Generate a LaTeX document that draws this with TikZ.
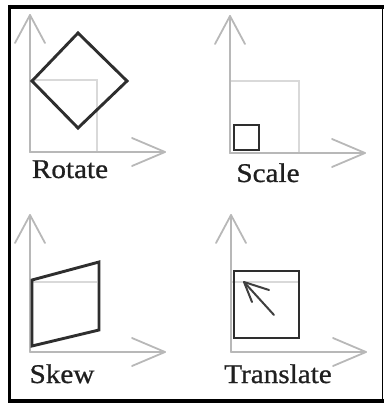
\documentclass[tikz,border=0pt]{standalone}
\usepackage{fontspec}
\setmainfont[FakeBold=0.8,BoldFont={Liberation Serif}]{Liberation Serif}
\begin{document}
\begin{tikzpicture}[x=1pt,y=-1pt,
  axis/.style={draw=black!28,line width=1.8pt,line cap=round,line join=round},
  ghost/.style={draw=black!15,line width=1.6pt},
  figline/.style={draw=black!82,line width=2.9pt,line join=miter},
  lbl/.style={anchor=base,inner sep=0pt,font=\fontsize{27}{27}\selectfont\bfseries,text=black!88},
  frame/.style={draw=black,line width=#1}]
\useasboundingbox (0,0) rectangle (384,403);
% frame
\draw[frame=3.6pt] (9.5,5) -- (9.5,403);
\draw[frame=4pt] (8,7.5) -- (384,7.5);
\draw[frame=4pt] (8,401) -- (384,401);
\draw[frame=1pt] (382.5,7) -- (382.5,401);
% axes macro
\newcommand{\axesat}[2]{%
  \draw[axis] (#1,#2) -- (#1,#2-137);
  \draw[axis] (#1-15,#2-109) -- (#1,#2-137) -- (#1+15,#2-109);
  \draw[axis] (#1,#2) -- (#1+135,#2);
  \draw[axis] (#1+102,#2-14) -- (#1+135,#2) -- (#1+102,#2+14);
}
% Rotate
\draw[ghost] (30,80) rectangle (97,152);
\axesat{30}{152}
\draw[figline] (78,33) -- (127,81) -- (78,128) -- (32,81) -- cycle;
\node[lbl] (rot) at (70,178) {\scalebox{1.08}[1]{Rotate}};
% Scale
\draw[ghost] (230,81) rectangle (299,153);
\axesat{230}{153}
\draw[figline] (234,125) rectangle (259,150);
\node[lbl] (sca) at (268,182) {\scalebox{1.08}[1]{Scale}};
% Skew
\draw[ghost] (30,282) -- (97,282);
\axesat{30}{352}
\draw[figline] (32,346) -- (32,280) -- (99,262) -- (99,330) -- cycle;
\node[lbl] (skw) at (62,383) {\scalebox{1.08}[1]{Skew}};
% Translate
\draw[ghost] (231,282) -- (298,282);
\axesat{231}{352}
\draw[figline] (234,271) rectangle (299,338);
\draw[draw=black!75,line width=2pt,line cap=round,line join=round] (274,315) -- (244,282);
\draw[draw=black!75,line width=2pt,line cap=round,line join=round] (269,290) -- (244,282) -- (252,302);
\node[lbl] (trn) at (278,383) {\scalebox{1.08}[1]{Translate}};
\end{tikzpicture}
\end{document}
